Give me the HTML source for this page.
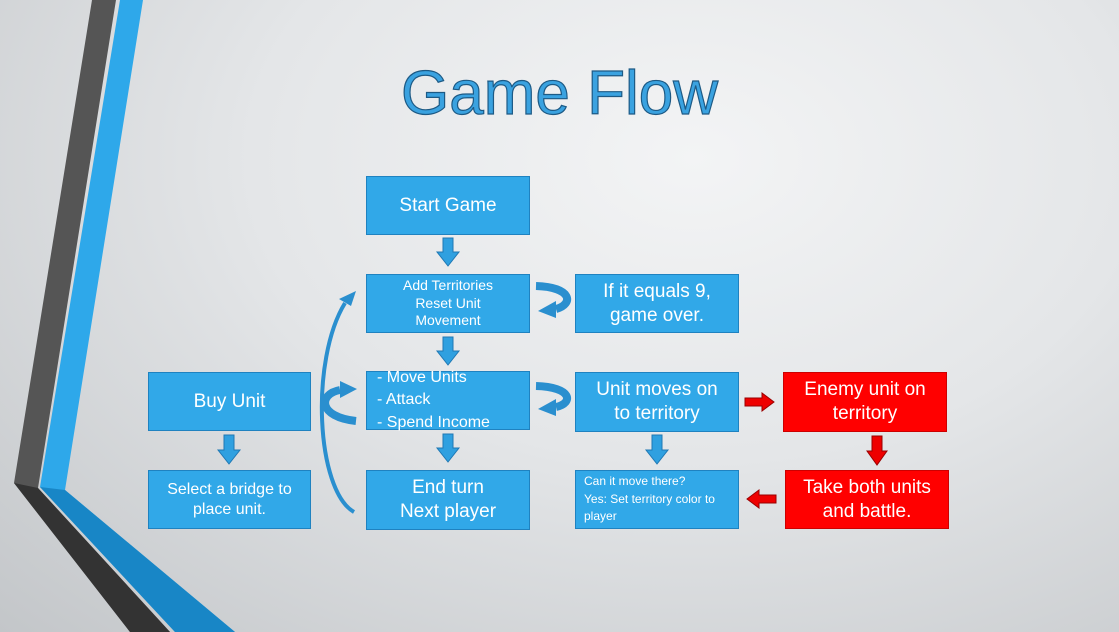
<!DOCTYPE html>
<html><head><meta charset="utf-8"><style>
body{margin:0;width:1119px;height:632px;overflow:hidden;position:relative;font-family:"Liberation Sans",sans-serif;
background:radial-gradient(ellipse at 62% 25%,#f3f4f5 0%,#e4e6e8 45%,#c3c6c9 100%);}
.b{position:absolute;background:#31a8e8;border:1px solid #1f82c0;color:#fff;display:flex;align-items:center;justify-content:center;text-align:center;box-sizing:border-box;line-height:1.25}
.r{background:#f00;border-color:#c00}
h1{position:absolute;left:0;width:1119px;top:58px;margin:0;text-align:center;padding-left:0;font-weight:normal;font-size:62px;color:#3aa2e0;-webkit-text-stroke:1.2px #1d5a85;}
</style></head><body>
<svg width="1119" height="632" style="position:absolute;left:0;top:0">
<polygon points="92,0 116,0 38,488 170,632 130,632 14,483" fill="#555"/>
<polygon points="14,483 38,488 170,632 130,632" fill="#333"/>
<polygon points="120,0 143,0 65,490 235,632 175,632 40,487" fill="#2ea8ea"/>
<polygon points="40,487 65,490 235,632 175,632" fill="#1886c6"/>
<g fill="#2fa0e0" stroke="#1f78b4" stroke-width="1">
<polygon points="443,238 453,238 453,252 459,252 448,266 437,252 443,252"/>
<polygon points="443,337 453,337 453,351 459,351 448,365 437,351 443,351"/>
<polygon points="443,434 453,434 453,448 459,448 448,462 437,448 443,448"/>
<polygon points="224,435 234,435 234,450 240,450 229,464 218,450 224,450"/>
<polygon points="652,435 662,435 662,450 668,450 657,464 646,450 652,450"/>
</g>
<g fill="none" stroke="#2a8fcf" stroke-width="8">
<path d="M536,286 C572,287 574,304 556,309"/>
<path d="M536,386 C572,387 574,403 556,407"/>
<path d="M356,421 C318,417 318,394 340,390"/>
</g>
<g fill="none" stroke="#2a8fcf" stroke-width="4">
<path d="M354,512 C316,490 310,360 345,303"/>
</g>
<g fill="#2a8fcf">
<polygon points="556,301 556,318 538,311"/>
<polygon points="556,399 556,416 538,409"/>
<polygon points="340,381 340,398 357,389"/>
<polygon points="339,299 351,306 356,291"/>
</g>
<polygon points="745,398 762,398 762,393 774,402 762,411 762,406 745,406" fill="#e00" stroke="#900"/>
<polygon points="872,436 882,436 882,451 887,451 877,465 867,451 872,451" fill="#e00" stroke="#900"/>
<polygon points="776,495 759,495 759,490 747,499 759,508 759,503 776,503" fill="#e00" stroke="#900"/>
</svg>
<h1>Game Flow</h1>
<div class="b" style="left:366px;top:176px;width:164px;height:59px;font-size:19px">Start Game</div>
<div class="b" style="left:366px;top:274px;width:164px;height:59px;font-size:14px">Add Territories<br>Reset Unit<br>Movement</div>
<div class="b" style="left:575px;top:274px;width:164px;height:59px;font-size:19px">If it equals 9,<br>game over.</div>
<div class="b" style="left:366px;top:371px;width:164px;height:59px;font-size:16px;justify-content:flex-start;text-align:left;padding-left:10px;line-height:1.4">- Move Units<br>- Attack<br>- Spend Income</div>
<div class="b" style="left:575px;top:372px;width:164px;height:60px;font-size:19px">Unit moves on<br>to territory</div>
<div class="b r" style="left:783px;top:372px;width:164px;height:60px;font-size:19px">Enemy unit on<br>territory</div>
<div class="b" style="left:148px;top:372px;width:163px;height:59px;font-size:19px">Buy Unit</div>
<div class="b" style="left:148px;top:470px;width:163px;height:59px;font-size:16px">Select a bridge to<br>place unit.</div>
<div class="b" style="left:366px;top:470px;width:164px;height:60px;font-size:19px">End turn<br>Next player</div>
<div class="b" style="left:575px;top:470px;width:164px;height:59px;font-size:12px;justify-content:flex-start;text-align:left;padding-left:8px;line-height:1.45">Can it move there?<br>Yes: Set territory color to<br>player</div>
<div class="b r" style="left:785px;top:470px;width:164px;height:59px;font-size:19px">Take both units<br>and battle.</div>
</body></html>
